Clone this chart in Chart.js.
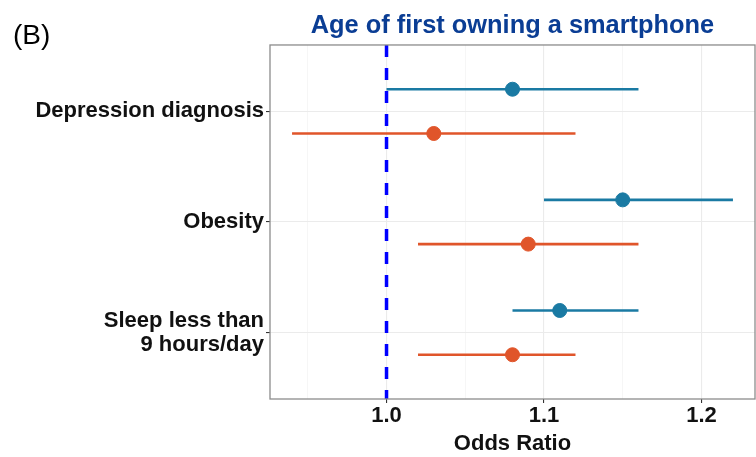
<!DOCTYPE html>
<html>
<head>
<meta charset="utf-8">
<script src="https://cdn.jsdelivr.net/npm/chart.js@4/dist/chart.umd.min.js"></script>
<style>
  html, body { margin: 0; padding: 0; background: #fff; }
  #wrap { width: 756px; height: 457px; }
</style>
</head>
<body>
<div id="wrap"><canvas id="c" width="756" height="457"></canvas></div>
<script>
// ---- data ----
const categories = [['Depression diagnosis'], ['Obesity'], ['Sleep less than', '9 hours/day']];
const seriesNames = ['Group A', 'Group B'];
const blueOR = [1.08, 1.15, 1.11];
const blueLo = [1.00, 1.10, 1.08];
const blueHi = [1.16, 1.22, 1.16];
const orangeOR = [1.03, 1.09, 1.08];
const orangeLo = [0.94, 1.02, 1.02];
const orangeHi = [1.12, 1.16, 1.12];
const xTickValues = [0.95, 1.0, 1.05, 1.1, 1.15, 1.2];
const xTickLabels = ['', '1.0', '', '1.1', '', '1.2'];
const refValue = 1.0;

const BLUE = '#1a7aa3';
const ORANGE = '#e0552a';
const dodge = 0.2;

function pointsData(vals, off) {
  return vals.map((v, i) => ({ x: v, y: i + 1 + off }));
}
function ciDatasets(lo, hi, off, color) {
  return lo.map((l, i) => ({
    type: 'line',
    data: [{ x: l, y: i + 1 + off }, { x: hi[i], y: i + 1 + off }],
    borderColor: color,
    borderWidth: 2.7,
    pointRadius: 0,
    showLine: true,
    order: 2
  }));
}

const datasets = [
  {
    type: 'line',
    label: 'ref',
    data: [{ x: refValue, y: 0.4 }, { x: refValue, y: 3.6 }],
    borderColor: '#0000ff',
    borderWidth: 3.5,
    borderDash: [12, 11],
    pointRadius: 0,
    order: 1
  },
  ...ciDatasets(blueLo, blueHi, -dodge, BLUE),
  ...ciDatasets(orangeLo, orangeHi, dodge, ORANGE),
  {
    type: 'scatter',
    label: seriesNames[0],
    data: pointsData(blueOR, -dodge),
    backgroundColor: BLUE,
    borderColor: BLUE,
    pointRadius: 7,
    order: 0
  },
  {
    type: 'scatter',
    label: seriesNames[1],
    data: pointsData(orangeOR, dodge),
    backgroundColor: ORANGE,
    borderColor: ORANGE,
    pointRadius: 7,
    order: 0
  }
];

const extras = {
  id: 'extras',
  afterDraw(chart) {
    const ctx = chart.ctx;
    const a = chart.chartArea;
    ctx.save();
    ctx.strokeStyle = '#8c8c8c';
    ctx.lineWidth = 1.3;
    ctx.strokeRect(a.left, a.top, a.right - a.left, a.bottom - a.top);
    ctx.fillStyle = '#000';
    ctx.font = '28px "Liberation Sans", Arial, sans-serif';
    ctx.textBaseline = 'alphabetic';
    ctx.textAlign = 'left';
    ctx.fillText('(B)', 13, 44);
    ctx.restore();
  }
};

const FONT = '"Liberation Sans", Arial, Helvetica, sans-serif';

new Chart(document.getElementById('c'), {
  data: { datasets },
  plugins: [extras],
  options: {
    responsive: false,
    animation: false,
    layout: { autoPadding: false, padding: { left: 0, right: 1, top: 0, bottom: 0 } },
    plugins: {
      legend: { display: false },
      tooltip: { enabled: false },
      title: {
        display: true,
        text: 'Age of first owning a smartphone',
        color: '#0a3d94',
        fullSize: false,
        font: { family: FONT, size: 25.4, weight: 'bold', lineHeight: 1.2 },
        padding: { top: 11, bottom: 3.5 }
      }
    },
    scales: {
      x: {
        type: 'linear',
        min: 0.926,
        max: 1.234,
        afterBuildTicks(scale) { scale.ticks = xTickValues.map(v => ({ value: v })); },
        afterFit(scale) { scale.height = 58; scale.paddingLeft = 0; scale.paddingRight = 0; },
        ticks: {
          autoSkip: false,
          maxRotation: 0,
          padding: 0,
          color: '#111',
          font: { family: FONT, size: 22, weight: 'bold' },
          callback: (v, i) => xTickLabels[i]
        },
        grid: {
          color: (c) => (c.index % 2 === 1 ? '#ebebeb' : '#f4f4f4'),
          lineWidth: (c) => (c.index % 2 === 1 ? 1.1 : 0.8),
          tickColor: (c) => (c.index % 2 === 1 ? '#333' : 'rgba(0,0,0,0)'),
          tickLength: 4
        },
        border: { display: false },
        title: {
          display: true,
          text: 'Odds Ratio',
          color: '#111',
          font: { family: FONT, size: 22, weight: 'bold', lineHeight: 1.2 },
          padding: { top: 2, bottom: 0 }
        }
      },
      y: {
        type: 'linear',
        reverse: true,
        min: 0.4,
        max: 3.6,
        afterBuildTicks(scale) { scale.ticks = categories.map((c, i) => ({ value: i + 1 })); },
        afterFit(scale) { scale.width = 270; scale.paddingTop = 0; scale.paddingBottom = 0; },
        ticks: {
          autoSkip: false,
          padding: 2,
          color: '#111',
          font: { family: FONT, size: 22, weight: 'bold', lineHeight: 1.1 },
          callback: (v, i) => categories[i]
        },
        grid: {
          color: '#ebebeb',
          lineWidth: 1.1,
          tickColor: '#333',
          tickLength: 4
        },
        border: { display: false }
      }
    }
  }
});
</script>
</body>
</html>
